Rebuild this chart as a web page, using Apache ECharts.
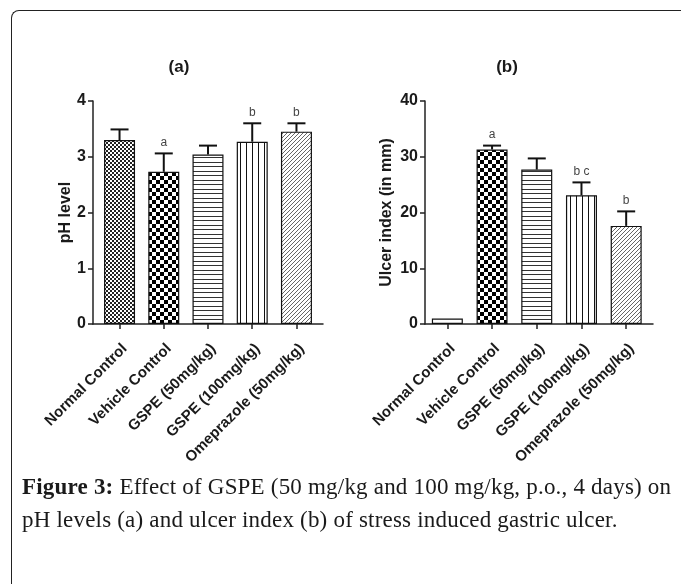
<!DOCTYPE html>
<html><head><meta charset="utf-8">
<script src="https://cdn.jsdelivr.net/npm/echarts@6/dist/echarts.min.js"></script>
<style>
html,body{margin:0;padding:0;background:#fff;width:681px;height:584px;overflow:hidden;}
#frame{position:absolute;left:11px;top:10px;width:720px;height:620px;border-left:1.5px solid #222;border-top:1.5px solid #222;border-top-left-radius:8px;}
#chart{position:absolute;left:0;top:0;width:681px;height:584px;}
#caption{position:absolute;left:22px;top:470px;font-family:"Liberation Serif",serif;font-size:23px;letter-spacing:0.2px;line-height:33px;color:#1a1a1a;white-space:nowrap;}
</style></head>
<body>
<div id="frame"></div>
<div id="chart"></div>
<div id="caption"><b>Figure 3:</b> Effect of GSPE (50 mg/kg and 100 mg/kg, p.o., 4 days) on<br>pH levels (a) and ulcer index (b) of stress induced gastric ulcer.</div>
<script>
const categories = ['Normal Control', 'Vehicle Control', 'GSPE (50mg/kg)', 'GSPE (100mg/kg)', 'Omeprazole (50mg/kg)'];
const phMean = [3.30, 2.73, 3.04, 3.27, 3.45];
const phUpper = [3.49, 3.06, 3.20, 3.60, 3.60];
const phSig = ['', 'a', '', 'b', 'b'];
const ulcerMean = [1.0, 31.3, 27.7, 23.1, 17.6];
const ulcerUpper = [1.0, 32.0, 29.7, 25.4, 20.2];
const ulcerSig = ['', 'a', '', 'b c', 'b'];
const phTicks = [0, 1, 2, 3, 4];
const ulcerTicks = [0, 10, 20, 30, 40];

function mk(w, h, draw) {
  const c = document.createElement('canvas');
  c.width = w; c.height = h;
  const g = c.getContext('2d');
  g.fillStyle = '#fff'; g.fillRect(0, 0, w, h);
  draw(g);
  return { image: c, repeat: 'repeat' };
}
const pFine = mk(4, 4, g => { g.fillStyle = '#222'; g.fillRect(0, 0, 2, 2); g.fillRect(2, 2, 2, 2); });
const pChecker = mk(8, 8, g => { g.fillStyle = '#000'; g.fillRect(0, 0, 4, 4); g.fillRect(4, 4, 4, 4); });
const pHoriz = mk(4, 9, g => { g.fillStyle = '#333'; g.fillRect(0, 0, 4, 1); g.fillRect(0, 4, 4, 1); });
const pVert = mk(6, 4, g => { g.fillStyle = '#111'; g.fillRect(0, 0, 1, 4); });
const pDiag = mk(4, 4, g => {
  g.strokeStyle = '#555'; g.lineWidth = 0.9;
  g.beginPath(); g.moveTo(0, 4); g.lineTo(4, 0);
  g.moveTo(-1, 1); g.lineTo(1, -1);
  g.moveTo(3, 5); g.lineTo(5, 3); g.stroke();
});
const fillsA = [pFine, pChecker, pHoriz, pVert, pDiag];
const fillsB = ['#fff', pChecker, pHoriz, pVert, pDiag];

const FONT = '"Liberation Sans", Arial, sans-serif';
const catIdx = categories.map((_, i) => i);

function xAxisFor(gi, min, max) {
  return {
    type: 'value', gridIndex: gi, min: min, max: max,
    splitLine: { show: false },
    axisLine: { show: true, onZero: false, lineStyle: { color: '#222', width: 1.5 } },
    axisTick: { show: true, customValues: catIdx, length: 5, lineStyle: { color: '#222', width: 1.5 } },
    axisLabel: {
      customValues: catIdx, formatter: v => categories[Math.round(v)],
      rotate: 45, verticalAlign: 'top', fontSize: 15, fontWeight: 'bold', fontFamily: FONT, color: '#1a1a1a', margin: 17
    }
  };
}
function yAxisFor(gi, ticks, name, gap) {
  return {
    type: 'value', gridIndex: gi, min: ticks[0], max: ticks[ticks.length - 1],
    interval: ticks[1] - ticks[0],
    name: name, nameLocation: 'middle', nameGap: gap,
    nameTextStyle: { fontSize: 16, fontWeight: 'bold', fontFamily: FONT, color: '#1a1a1a' },
    splitLine: { show: false },
    axisLine: { show: true, onZero: false, lineStyle: { color: '#222', width: 1.5 } },
    axisTick: { show: true, length: 5, lineStyle: { color: '#222', width: 1.5 } },
    axisLabel: { fontSize: 16, fontWeight: 'bold', fontFamily: FONT, color: '#1a1a1a', margin: 7 }
  };
}
function seriesFor(gi, means, uppers, sigs, fills) {
  return [
    {
      type: 'bar', xAxisIndex: gi, yAxisIndex: gi, barWidth: 31, z: 2,
      itemStyle: { borderColor: '#111', borderWidth: 1.2 },
      data: means.map((v, i) => ({ value: [i, v], itemStyle: { color: fills[i] } }))
    },
    {
      type: 'custom', xAxisIndex: gi, yAxisIndex: gi, z: 3,
      data: means.map((v, i) => [i, v, uppers[i]]),
      renderItem: (params, api) => {
        const x = api.value(0), m = api.value(1), u = api.value(2);
        const p0 = api.coord([x, m]), p1 = api.coord([x, u]);
        const children = [];
        if (u > m) {
          children.push({ type: 'line', shape: { x1: p0[0], y1: p0[1], x2: p1[0], y2: p1[1] }, style: { stroke: '#111', lineWidth: 2 } });
          children.push({ type: 'line', shape: { x1: p1[0] - 9, y1: p1[1], x2: p1[0] + 9, y2: p1[1] }, style: { stroke: '#111', lineWidth: 2 } });
        }
        const s = sigs[params.dataIndex];
        if (s) children.push({ type: 'text', style: { text: s, x: p1[0], y: p1[1] - 11, align: 'center', verticalAlign: 'middle', fill: '#444', font: '12px ' + FONT } });
        return { type: 'group', children: children };
      }
    }
  ];
}

const chart = echarts.init(document.getElementById('chart'), null, { renderer: 'canvas' });
chart.setOption({
  animation: false,
  backgroundColor: 'transparent',
  grid: [
    { left: 93, top: 101, width: 230, height: 223 },
    { left: 425, top: 101, width: 228, height: 223 }
  ],
  xAxis: [xAxisFor(0, -0.6, 4.6), xAxisFor(1, -0.5, 4.6)],
  yAxis: [yAxisFor(0, phTicks, 'pH level', 13), yAxisFor(1, ulcerTicks, 'Ulcer index (in mm)', 30)],
  graphic: [
    { type: 'text', x: 179, y: 67, style: { text: '(a)', align: 'center', verticalAlign: 'middle', font: 'bold 17px ' + FONT, fill: '#1a1a1a' } },
    { type: 'text', x: 507, y: 67, style: { text: '(b)', align: 'center', verticalAlign: 'middle', font: 'bold 17px ' + FONT, fill: '#1a1a1a' } }
  ],
  series: [].concat(seriesFor(0, phMean, phUpper, phSig, fillsA), seriesFor(1, ulcerMean, ulcerUpper, ulcerSig, fillsB))
});
</script>
</body></html>
